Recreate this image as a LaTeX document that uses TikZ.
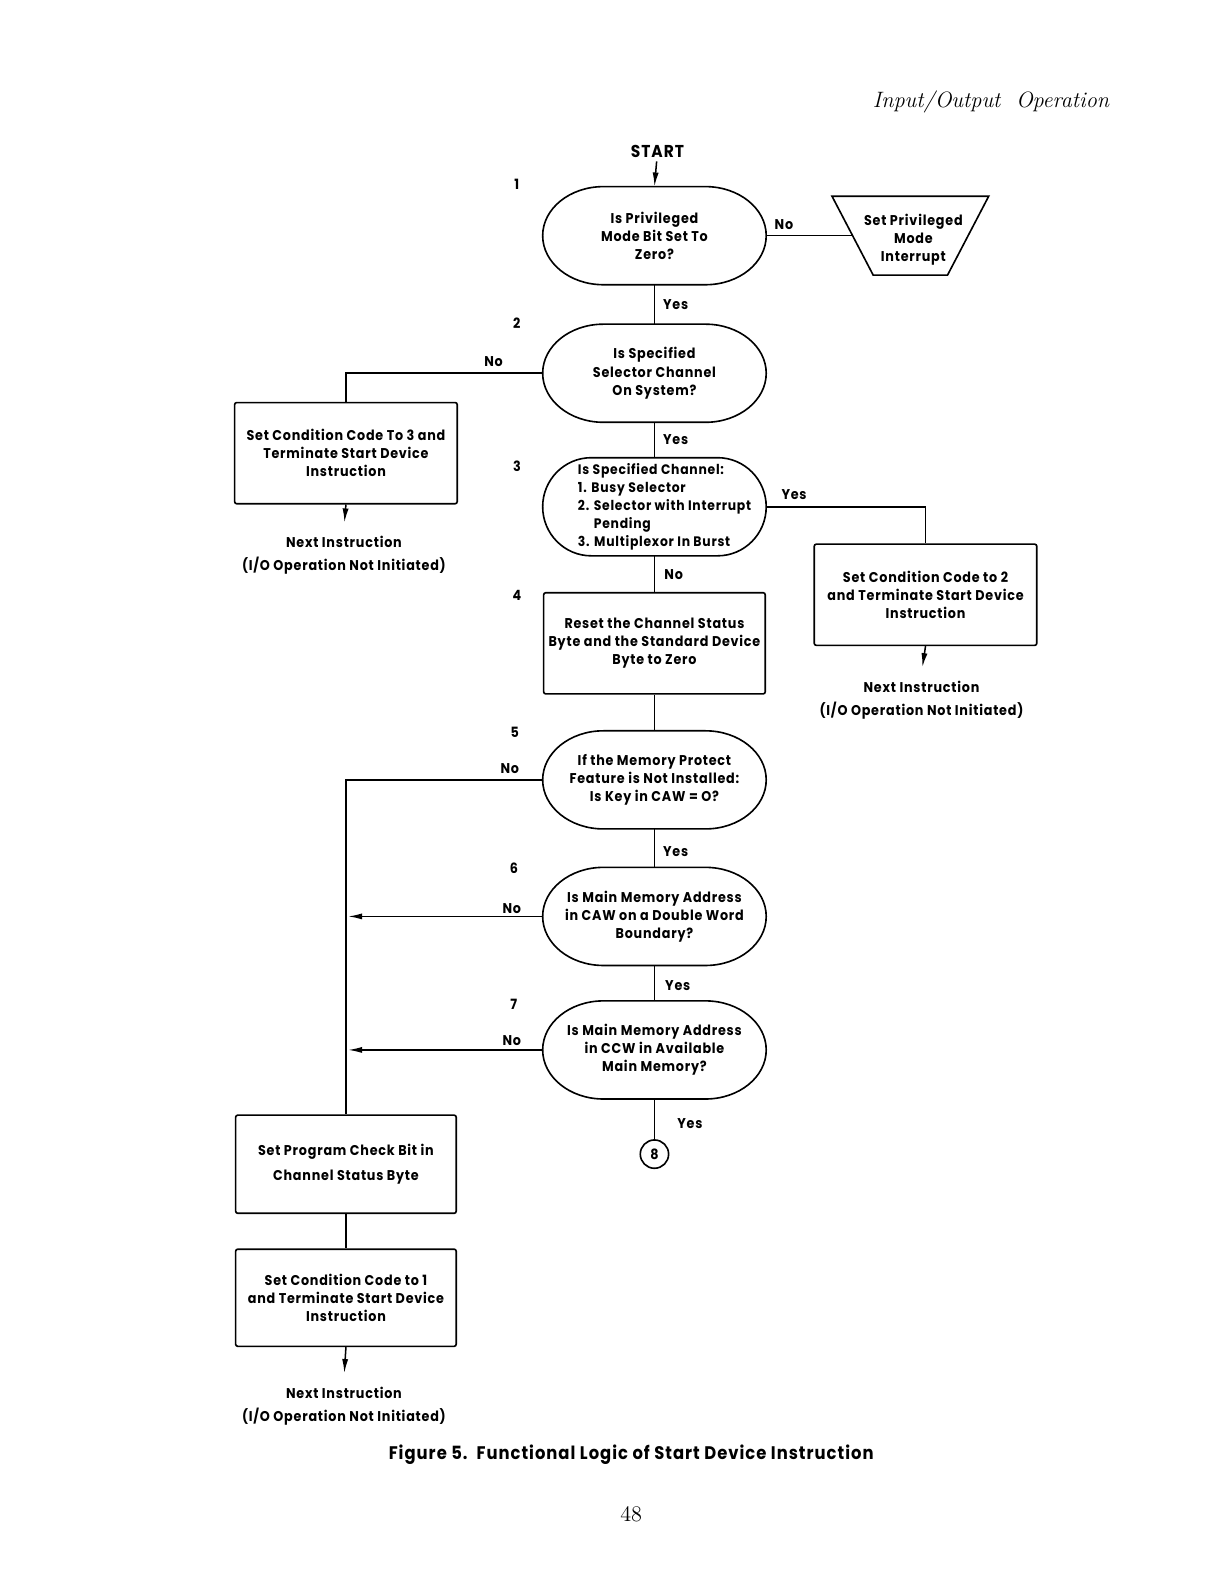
\documentclass[tikz,border=0pt]{standalone}
\usepackage{fontspec}
\newfontfamily\flowfont{Poppins}[FakeStretch=0.9,LetterSpace=5.5]
\usetikzlibrary{%
  arrows.meta,%
  shapes.geometric%
}
\tikzset{>={Latex[length=7pt,width=3pt]},%
  flow/.style={font=\flowfont\bfseries\fontsize{7}{9}\selectfont},
  decision/.style={flow,minimum width=110.5pt,minimum height=48.5pt,
    outer sep=0pt,align=center,inner sep=1pt},
  procbox/.style={flow,draw,line width=0.8pt,rounded corners=1pt,
    minimum width=110pt,minimum height=50pt,align=center,inner sep=1pt},
  nextinstr/.style={align=center,
    font=\flowfont\bfseries\fontsize{7}{11.5}\selectfont}}
% outline of a decision node with elliptic ends
\newcommand{\decisionoutline}[2]{%
  \draw[line width=0.8pt] ([xshift=#2]#1.north west) -- ([xshift=-#2]#1.north east)
    arc[start angle=90,end angle=-90,x radius=#2,y radius=24.25pt]
    -- ([xshift=#2]#1.south west)
    arc[start angle=270,end angle=90,x radius=#2,y radius=24.25pt] -- cycle;}

\begin{document}
\begin{tikzpicture}[x=0.5pt,y=-0.5pt,line width=0.75pt]
  \useasboundingbox (0,0) rectangle (1210,1566);
  \node[font=\itshape\fontsize{11}{12}\selectfont,anchor=east] (head)
    at (1104,101) {Input/Output\ \ Operation};
  % main column
  \node[flow,font=\flowfont\bfseries\fontsize{8.5}{9}\selectfont] (start)
    at (650,150) {START};
  \node[decision] (d1) at (647,233) {Is Privileged\\Mode Bit Set To\\Zero?};
  \node[draw,line width=0.8pt,trapezium,shape border rotate=180,
    trapezium angle=61,trapezium stretches=true,minimum width=77.5pt,
    minimum height=39pt] (priv) at (900,233) {};
  \node[flow,align=center] (privtext) at (903,237)
    {Set Privileged\\Mode\\Interrupt};
  \node[decision] (d2) at (647,369) {Is Specified\\Selector Channel\\On System?};
  \node[decision] (d3) at (647,501) {};
  \node[flow,align=left,font=\flowfont\bfseries\fontsize{6.8}{8.8}\selectfont]
    (d3text) at (657,501) {Is Specified Channel:\\
    1. Busy Selector\\2. Selector with Interrupt\\\phantom{2. }Pending\\
    3. Multiplexor In Burst};
  \node[procbox,minimum width=109.5pt] (reset) at (647,636)
    {Reset the Channel Status\\Byte and the Standard Device\\Byte to Zero};
  \node[decision] (d5) at (647,771)
    {If the Memory Protect\\Feature is Not Installed:\\Is Key in CAW = O?};
  \node[decision] (d6) at (647,906)
    {Is Main Memory Address\\in CAW on a Double Word\\Boundary?};
  \node[decision] (d7) at (647,1038)
    {Is Main Memory Address\\in CCW in Available\\Main Memory?};
  \foreach \d in {d1,d2,d5,d6,d7} {\decisionoutline{\d}{30pt}}
  \decisionoutline{d3}{24pt}
  \node[flow,draw,circle,line width=0.8pt,minimum size=14pt,inner sep=0pt]
    (c8) at (647,1141) {8};
  % side boxes
  \node[procbox] (cc3) at (342,448)
    {Set Condition Code To 3 and\\Terminate Start Device\\Instruction};
  \node[procbox] (cc2) at (915,588)
    {Set Condition Code to 2\\and Terminate Start Device\\Instruction};
  \node[procbox,minimum width=109pt,minimum height=48.5pt] (pc) at (342,1151)
    {Set Program Check Bit in\\[3.5pt]Channel Status Byte};
  \node[procbox,minimum width=109pt,minimum height=48pt] (cc1) at (342,1283)
    {Set Condition Code to 1\\and Terminate Start Device\\Instruction};
  \node[nextinstr] (next3) at (340,549)
    {Next Instruction\\(I/O Operation Not Initiated)};
  \node[nextinstr] (next2) at (911,692)
    {Next Instruction\\(I/O Operation Not Initiated)};
  \node[nextinstr] (next1) at (340,1390)
    {Next Instruction\\(I/O Operation Not Initiated)};
  % step numbers and answers
  \foreach \n/\x/\y in {1/511/182,2/511/320,3/511/461,4/511/589,
    5/509/724,6/508/858,7/508/993}
    {\node[flow] (num\n) at (\x,\y) {\n};}
  \foreach \t/\x/\y [count=\i] in {No/775/222,Yes/668/301,No/488/357,
    Yes/668/435,Yes/785/489,No/666/568,No/504/760,Yes/668/842,No/506/898,
    Yes/670/974,No/506/1029,Yes/682/1111}
    {\node[flow] (ans\i) at (\x,\y) {\t};}
  % connectors
  \draw[->,shorten <=-2pt] (start) -- (d1.north);
  \draw (d1.east) -- (priv);
  \draw (d1.south) -- (d2.north);
  \draw (d2.west) -| (cc3.north);
  \draw[->,shorten >=3pt] (cc3.south) -- (next3.north);
  \draw (d2.south) -- (d3.north);
  \draw (d3.east) -| (cc2.north);
  \draw[->,shorten >=3pt] (cc2.south) -- (next2.north);
  \draw (d3.south) -- (reset.north);
  \draw (reset.south) -- (d5.north);
  \draw (d5.west) -| (pc.north);
  \draw (d5.south) -- (d6.north);
  \draw[->,shorten >=1pt] (d6.west) -- (d6.west -| pc.north);
  \draw (d6.south) -- (d7.north);
  \draw[->,shorten >=1pt] (d7.west) -- (d7.west -| pc.north);
  \draw (d7.south) -- (c8);
  \draw (pc.south) -- (cc1.north);
  \draw[->,shorten >=3pt] (cc1.south) -- (next1.north);
  % caption and page
  \node[flow,font=\flowfont\bfseries\fontsize{9}{10}\selectfont] (caption)
    at (624,1438) {Figure 5.\ \ Functional\ Logic\ of\ Start\ Device\ Instruction};
  \node[font=\fontsize{11}{12}\selectfont] (page) at (624,1497) {48};
\end{tikzpicture}
\end{document}
